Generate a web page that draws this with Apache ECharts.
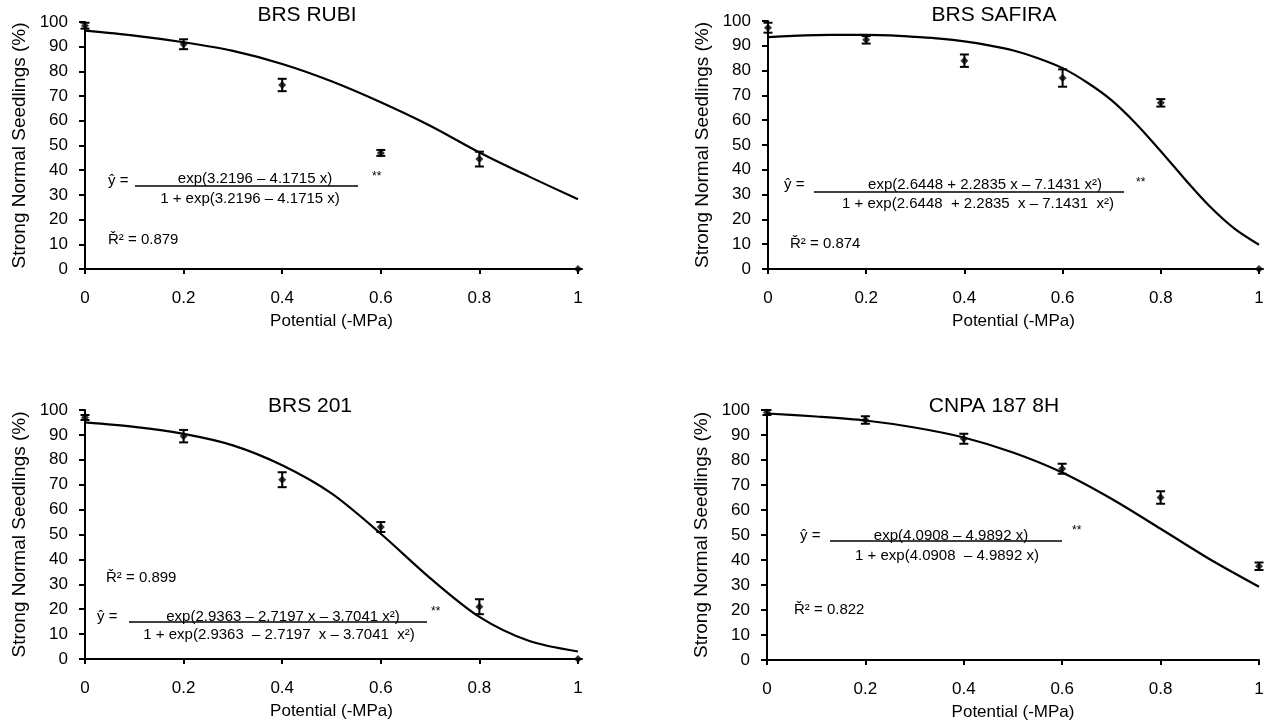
<!DOCTYPE html>
<html>
<head>
<meta charset="utf-8">
<script src="https://cdn.jsdelivr.net/npm/echarts@6/dist/echarts.min.js"></script>
<style>
html,body{margin:0;padding:0;background:#fff;}
#chart{width:1272px;height:727px;}
</style>
</head>
<body>
<div id="chart"></div>
<script>
// ---------- data ----------
const potentials = [0, 0.2, 0.4, 0.6, 0.8, 1];
const panelTitles = ['BRS RUBI', 'BRS SAFIRA', 'BRS 201', 'CNPA 187 8H'];

const rubiMean   = [98.5, 91.0, 74.5, 47.0, 44.5, 0];
const rubiErr    = [1.2, 2.0, 2.5, 1.2, 3.0, 0];
const safiraMean = [97.3, 92.4, 84.0, 77.0, 67.0, 0];
const safiraErr  = [2.0, 1.5, 2.5, 3.5, 1.5, 0];
const brs201Mean = [97.0, 89.5, 72.0, 53.0, 21.0, 0];
const brs201Err  = [1.0, 2.5, 3.0, 2.0, 3.0, 0];
const cnpaMean   = [99.0, 96.0, 88.5, 76.5, 65.0, 37.5];
const cnpaErr    = [1.0, 1.5, 2.0, 2.0, 2.5, 1.5];

// fitted curves
const fitX10 = [0, 0.1, 0.2, 0.3, 0.4, 0.5, 0.6, 0.7, 0.8, 0.9, 1];
const fitX20 = [0, 0.05, 0.1, 0.15, 0.2, 0.25, 0.3, 0.35, 0.4, 0.45, 0.5, 0.55, 0.6, 0.65, 0.7, 0.75, 0.8, 0.85, 0.9, 0.95, 1];
const rubiFit   = [96.5, 94.5, 91.8, 88.3, 83.0, 76.0, 67.5, 58.0, 47.2, 37.5, 28.2];
const safiraFit = [93.5, 94.0, 94.3, 94.4, 94.4, 94.2, 93.6, 92.9, 91.8, 90.2, 88.1, 85.0, 81.0, 75.2, 68.0, 58.5, 47.5, 36.0, 25.2, 16.3, 9.8];
const brs201Fit = [95.0, 93.2, 90.4, 85.8, 77.8, 66.5, 50.3, 32.5, 16.9, 7.3, 3.0];
const cnpaFit   = [98.6, 97.4, 95.8, 93.0, 89.0, 83.0, 75.0, 64.5, 52.5, 40.3, 29.3];

const yTicks = {min: 0, max: 100, interval: 10};
const xTicks = {min: 0, max: 1, interval: 0.2};

const equations = [
  {num: 'exp(3.2196 – 4.1715 x)', den: '1 + exp(3.2196 – 4.1715 x)', r2: 'Ř² = 0.879'},
  {num: 'exp(2.6448 + 2.2835 x – 7.1431 x²)', den: '1 + exp(2.6448  + 2.2835  x – 7.1431  x²)', r2: 'Ř² = 0.874'},
  {num: 'exp(2.9363 – 2.7197 x – 3.7041 x²)', den: '1 + exp(2.9363  – 2.7197  x – 3.7041  x²)', r2: 'Ř² = 0.899'},
  {num: 'exp(4.0908 – 4.9892 x)', den: '1 + exp(4.0908  – 4.9892 x)', r2: 'Ř² = 0.822'}
];

// ---------- layout ----------
const FONT = '"Liberation Sans", Arial, sans-serif';
const grids = [
  {left: 85,  right: 694, top: 22,  bottom: 458},
  {left: 768, right: 13,  top: 21,  bottom: 458},
  {left: 85,  right: 694, top: 410, bottom: 68},
  {left: 767, right: 13,  top: 410, bottom: 67}
];
const means = [rubiMean, safiraMean, brs201Mean, cnpaMean];
const errs  = [rubiErr, safiraErr, brs201Err, cnpaErr];
const fits  = [[fitX10, rubiFit], [fitX20, safiraFit], [fitX10, brs201Fit], [fitX10, cnpaFit]];

// text placement (pixels)
const titlePos = [[307, 15], [994, 15], [310, 406], [994, 406]];
const eqPos = [
  {yhat: [108, 181], line: [135, 358, 186], num: [255, 179], den: [250, 199], star: [372, 177], r2: [108, 240]},
  {yhat: [784, 185], line: [814, 1124, 192], num: [985, 185], den: [978, 204], star: [1136, 183], r2: [790, 244]},
  {yhat: [97, 617],  line: [129, 427, 622], num: [283, 617], den: [279, 635], star: [431, 612], r2: [106, 578]},
  {yhat: [800, 536], line: [830, 1062, 541], num: [951, 536], den: [947, 556], star: [1072, 531], r2: [794, 610]}
];

const xAxes = [], yAxes = [], series = [], graphics = [];
grids.forEach((g, i) => {
  xAxes.push({
    type: 'value', gridIndex: i, min: xTicks.min, max: xTicks.max, interval: xTicks.interval,
    name: 'Potential (-MPa)', nameLocation: 'middle', nameGap: 44,
    nameTextStyle: {fontFamily: FONT, fontSize: 17, color: '#000'},
    axisLine: {show: true, onZero: false, lineStyle: {color: '#000', width: 2}},
    axisTick: {show: true, length: 5, lineStyle: {color: '#000', width: 2}},
    axisLabel: {fontFamily: FONT, fontSize: 17, color: '#000', margin: 21},
    splitLine: {show: false}
  });
  yAxes.push({
    type: 'value', gridIndex: i, min: yTicks.min, max: yTicks.max, interval: yTicks.interval,
    name: 'Strong Normal Seedlings (%)', nameLocation: 'middle', nameGap: 56,
    nameTextStyle: {fontFamily: FONT, fontSize: 19, color: '#000'},
    axisLine: {show: true, onZero: false, lineStyle: {color: '#000', width: 2}},
    axisTick: {show: true, length: 6, lineStyle: {color: '#000', width: 2}},
    axisLabel: {fontFamily: FONT, fontSize: 17, color: '#000', margin: 17},
    splitLine: {show: false}
  });
  const [fx, fy] = fits[i];
  series.push({
    type: 'line', xAxisIndex: i, yAxisIndex: i, smooth: 0.3, symbol: 'none',
    lineStyle: {color: '#000', width: 2.2}, z: 3,
    data: fx.map((x, k) => [x, fy[k]])
  });
  series.push({
    type: 'custom', xAxisIndex: i, yAxisIndex: i, z: 4,
    data: potentials.map((x, k) => [x, means[i][k] - errs[i][k], means[i][k] + errs[i][k]]),
    renderItem: function (params, api) {
      const x = api.value(0);
      const lo = api.coord([x, api.value(1)]);
      const hi = api.coord([x, api.value(2)]);
      const hw = 4.5;
      const st = {stroke: '#000', lineWidth: 2};
      return {
        type: 'group',
        children: [
          {type: 'line', shape: {x1: lo[0], y1: lo[1], x2: hi[0], y2: hi[1]}, style: st},
          {type: 'line', shape: {x1: lo[0] - hw, y1: lo[1], x2: lo[0] + hw, y2: lo[1]}, style: st},
          {type: 'line', shape: {x1: hi[0] - hw, y1: hi[1], x2: hi[0] + hw, y2: hi[1]}, style: st}
        ]
      };
    }
  });
  series.push({
    type: 'scatter', xAxisIndex: i, yAxisIndex: i, symbol: 'diamond', symbolSize: 8, z: 5,
    itemStyle: {color: '#000'},
    data: potentials.map((x, k) => [x, means[i][k]])
  });

  // title
  graphics.push({
    type: 'text', x: titlePos[i][0], y: titlePos[i][1],
    style: {text: panelTitles[i], font: '21px ' + FONT, fill: '#000', textAlign: 'center', textVerticalAlign: 'middle'}
  });
  // equation
  const e = eqPos[i], q = equations[i];
  const eqFont = '15px ' + FONT;
  graphics.push({type: 'text', x: e.yhat[0], y: e.yhat[1],
    style: {text: 'ŷ =', font: eqFont, fill: '#000', textAlign: 'left', textVerticalAlign: 'middle'}});
  graphics.push({type: 'line', shape: {x1: e.line[0], y1: e.line[2], x2: e.line[1], y2: e.line[2]},
    style: {stroke: '#000', lineWidth: 1.6}});
  graphics.push({type: 'text', x: e.num[0], y: e.num[1],
    style: {text: q.num, font: eqFont, fill: '#000', textAlign: 'center', textVerticalAlign: 'middle'}});
  graphics.push({type: 'text', x: e.den[0], y: e.den[1],
    style: {text: q.den, font: eqFont, fill: '#000', textAlign: 'center', textVerticalAlign: 'middle'}});
  graphics.push({type: 'text', x: e.star[0], y: e.star[1],
    style: {text: '**', font: '12px ' + FONT, fill: '#000', textAlign: 'left', textVerticalAlign: 'middle'}});
  graphics.push({type: 'text', x: e.r2[0], y: e.r2[1],
    style: {text: q.r2, font: eqFont, fill: '#000', textAlign: 'left', textVerticalAlign: 'middle'}});
});

const chart = echarts.init(document.getElementById('chart'), null, {renderer: 'canvas'});
chart.setOption({
  backgroundColor: '#fff',
  animation: false,
  grid: grids,
  xAxis: xAxes,
  yAxis: yAxes,
  series: series,
  graphic: graphics
});
</script>
</body>
</html>
